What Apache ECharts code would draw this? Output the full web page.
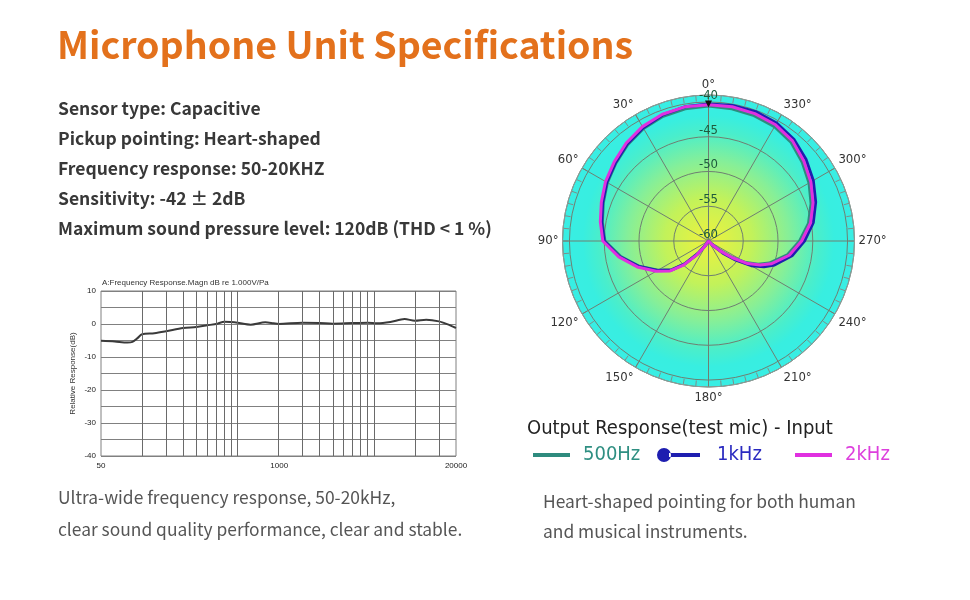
<!DOCTYPE html>
<html><head><meta charset="utf-8">
<script src="https://cdn.jsdelivr.net/npm/echarts@6/dist/echarts.min.js"></script>
<style>html,body{margin:0;padding:0;background:#fff}#c{width:970px;height:600px}</style>
</head><body><div id="c"></div>
<script>
// ---------- data ----------
const pageTitle = 'Microphone Unit Specifications';
const specLines = [
  'Sensor type: Capacitive',
  'Pickup pointing: Heart-shaped',
  'Frequency response: 50-20KHZ',
  'Sensitivity: -42 \u00B1 2dB',
  'Maximum sound pressure level: 120dB (THD < 1 %)'
];
const leftCaption = ['Ultra-wide frequency response, 50-20kHz,', 'clear sound quality performance, clear and stable.'];
const rightCaption = ['Heart-shaped pointing for both human', 'and musical instruments.'];

const freqTitle = 'A:Frequency Response.Magn dB re 1.000V/Pa';
const freqYName = 'Relative Response(dB)';
const freqHz = [50, 63, 78, 85, 93, 100, 123, 150, 200, 250, 300, 357, 400, 446, 500, 625, 800, 920, 1000, 1500, 2000, 2500, 3500, 4500, 5300, 6600, 8400, 10000, 12100, 15000, 17600, 20000];
const responseDb = [-5.1, -5.3, -5.6, -5.4, -4.2, -3.1, -2.8, -2.2, -1.2, -0.9, -0.4, 0.1, 0.7, 0.6, 0.4, -0.2, 0.5, 0.2, 0.0, 0.4, 0.3, 0.1, 0.3, 0.4, 0.2, 0.6, 1.5, 1.0, 1.3, 0.8, -0.2, -1.2];
const freqGridHz = [100, 150, 200, 250, 300, 350, 400, 450, 500, 1000, 1500, 2000, 2500, 3000, 3500, 4000, 4500, 5000, 10000, 15000];

const polarLegendTitle = 'Output Response(test mic) - Input';
const polarSeriesNames = ['500Hz', '1kHz', '2kHz'];
const polarAngles = [0,10,20,30,40,50,60,70,80,90,100,110,120,128,134,140,145,150,180,220,225,230,235,240,245,250,260,270,280,290,300,310,320,330,340,350,360];
const resp500Hz = [-40.6,-40.7,-40.9,-41.3,-41.9,-42.6,-43.2,-43.9,-44.5,-45.1,-47.2,-49.4,-51.6,-53.3,-55.3,-57.7,-59.3,-60,-60,-60,-59.5,-58.1,-56.1,-53.8,-52.1,-50.7,-48.5,-46.9,-45.4,-44.3,-43.3,-42.4,-41.5,-41.0,-40.8,-40.7,-40.6];
const resp1kHz = [-40.3,-40.4,-40.7,-41.2,-41.8,-42.5,-43.1,-43.8,-44.4,-45.0,-47.0,-49.3,-51.5,-53.2,-55.2,-57.6,-59.2,-60,-60,-60,-59.0,-57.3,-55.2,-52.9,-51.2,-49.9,-47.8,-46.2,-44.7,-43.6,-42.6,-41.7,-40.9,-40.4,-40.2,-40.2,-40.3];
const resp2kHz = [-40.4,-40.4,-40.6,-41.0,-41.6,-42.3,-42.9,-43.6,-44.2,-44.8,-46.9,-49.1,-51.3,-53.0,-55.0,-57.4,-59.0,-60,-60,-60,-59.3,-57.8,-55.8,-53.5,-51.8,-50.4,-48.2,-46.6,-45.1,-44.0,-43.0,-42.1,-41.2,-40.7,-40.5,-40.4,-40.4];

// ---------- styles ----------
const CJK = '"Noto Sans CJK SC", "Noto Sans", sans-serif';
const ARIAL = '"Liberation Sans", Arial, sans-serif';
const TAHOMA = '"DejaVu Sans Condensed", "DejaVu Sans", sans-serif';
const colors = ['#2e8b7e', '#1e1eb0', '#e030e0'];
const legendTextColors = ['#2f8f82', '#2a2ac0', '#dd3fdd'];
const POLAR_CX = 708.5, POLAR_CY = 241, POLAR_R = 146;

const chart = echarts.init(document.getElementById('c'), null, {renderer: 'canvas'});

const graphics = [];
graphics.push({type: 'text', x: 57, y: 45, style: {text: pageTitle, font: 'bold 37.5px ' + CJK, fill: '#e3711c', textVerticalAlign: 'middle'}});
specLines.forEach((t, i) => graphics.push({type: 'text', x: 58, y: 108 + i * 30, style: {text: t, font: 'bold 17.5px ' + CJK, fill: '#383838', textVerticalAlign: 'middle'}}));
leftCaption.forEach((t, i) => graphics.push({type: 'text', x: 58, y: 497 + i * 32, style: {text: t, font: '17.4px ' + CJK, fill: '#555', textVerticalAlign: 'middle'}}));
rightCaption.forEach((t, i) => graphics.push({type: 'text', x: 543, y: 501 + i * 30, style: {text: t, font: '17.4px ' + CJK, fill: '#555', textVerticalAlign: 'middle'}}));
graphics.push({type: 'text', x: 102, y: 283, style: {text: freqTitle, font: '8px ' + ARIAL, fill: '#333', textVerticalAlign: 'middle'}});
graphics.push({type: 'text', x: 527, y: 429, style: {text: polarLegendTitle, font: '20px ' + TAHOMA, fill: '#222', textVerticalAlign: 'middle'}});
graphics.push({type: 'circle', z: -10, silent: true, shape: {cx: POLAR_CX, cy: POLAR_CY, r: POLAR_R},
  style: {fill: {type: 'radial', x: 0.5, y: 0.5, r: 0.5, colorStops: [
    {offset: 0, color: '#eef23c'}, {offset: 0.3, color: '#c2f25a'}, {offset: 0.55, color: '#86ef98'},
    {offset: 0.75, color: '#4aeecb'}, {offset: 0.86, color: '#38eee0'}, {offset: 1, color: '#38eee4'}]}}});

const toPolar = arr => arr.map((v, i) => [v, polarAngles[i]]);
const dotLineIcon = 'path://M0,7A7,7 0 1,0 14,7A7,7 0 1,0 0,7Z M12,5L43,5L43,9L12,9Z';

const legendPos = [533, 657, 795];
const legends = polarSeriesNames.map((n, i) => {
  const dot = i === 1;
  return {
    left: legendPos[i], top: 445, orient: 'horizontal', padding: 0, itemGap: 0,
    itemWidth: dot ? 43 : 37, itemHeight: dot ? 14 : 4,
    data: [{name: n, icon: dot ? dotLineIcon : 'rect'}],
    itemStyle: {color: colors[i]},
    textStyle: {fontSize: 20, fontFamily: TAHOMA, color: legendTextColors[i], padding: [0, 0, 0, dot ? 12 : 8]},
    selectedMode: false
  };
});

// 1kHz series: marker on the 0° reference point
const data1k = toPolar(resp1kHz).map((p, i) => i === 0
  ? {value: p, symbol: 'triangle', symbolRotate: 180, symbolSize: [7, 7], itemStyle: {color: '#111'}}
  : p);

const option = {
  animation: false,
  graphic: {elements: graphics},
  legend: legends,
  grid: {left: 101, top: 291, width: 355, height: 165, show: true, borderColor: '#808080', borderWidth: 1},
  xAxis: {
    type: 'log', logBase: 20, min: 50, max: 20000, interval: 1,
    axisLine: {show: false}, axisTick: {show: false}, splitLine: {show: false},
    axisLabel: {fontSize: 8, fontFamily: ARIAL, color: '#222', margin: 6, formatter: v => String(Number(Number(v).toPrecision(2))), showMinLabel: true, showMaxLabel: true}
  },
  yAxis: {
    type: 'value', min: -40, max: 10, interval: 5,
    name: freqYName, nameLocation: 'middle', nameGap: 24, nameTextStyle: {fontSize: 8, fontFamily: ARIAL, color: '#333'},
    axisLine: {show: false}, axisTick: {show: false},
    splitLine: {show: true, lineStyle: {color: '#808080', width: 1}},
    axisLabel: {fontSize: 8, fontFamily: ARIAL, color: '#222', margin: 5, formatter: v => (v % 10 === 0 ? String(v) : '')}
  },
  polar: {center: [POLAR_CX, POLAR_CY], radius: POLAR_R},
  angleAxis: {
    type: 'value', min: 0, max: 360, interval: 30, startAngle: 90, clockwise: false,
    axisLine: {show: true, lineStyle: {color: '#8c9c98', width: 1}},
    axisTick: {show: true, inside: true, length: 6, lineStyle: {color: '#7f8f8a'}},
    minorTick: {show: true, splitNumber: 6, length: 6, lineStyle: {color: '#7f8f8a'}},
    splitLine: {show: true, lineStyle: {color: '#6f7f72', width: 1}},
    axisLabel: {formatter: '{value}\u00B0', margin: 4, fontSize: 13, fontFamily: TAHOMA, color: '#333'}
  },
  radiusAxis: {
    type: 'value', min: -60, max: -39, interval: 5,
    axisLine: {show: false}, axisTick: {show: false},
    splitLine: {show: true, lineStyle: {color: '#6f7f72', width: 1}},
    axisLabel: {margin: 0, align: 'center', verticalAlign: 'bottom', fontSize: 13, fontFamily: TAHOMA, color: '#1e5a3c',
      formatter: v => (v % 5 === 0 ? String(v) : '')}
  },
  series: [
    {type: 'line', xAxisIndex: 0, yAxisIndex: 0, data: freqHz.map((f, i) => [f, responseDb[i]]), smooth: 0.3, symbol: 'none',
      lineStyle: {color: '#3a3a3a', width: 2}, silent: true,
      markLine: {silent: true, symbol: 'none', label: {show: false}, lineStyle: {color: '#6a6a6a', width: 1, type: 'solid'},
        data: freqGridHz.map(f => ({xAxis: f}))}},
    {type: 'line', name: polarSeriesNames[0], coordinateSystem: 'polar', data: toPolar(resp500Hz), symbol: 'none', color: colors[0], lineStyle: {width: 3, color: colors[0]}, silent: true},
    {type: 'line', name: polarSeriesNames[1], coordinateSystem: 'polar', data: data1k, symbol: 'none', showSymbol: true, color: colors[1], lineStyle: {width: 3, color: colors[1]}, silent: true, z: 3},
    {type: 'line', name: polarSeriesNames[2], coordinateSystem: 'polar', data: toPolar(resp2kHz), symbol: 'none', color: colors[2], lineStyle: {width: 3, color: colors[2]}, silent: true}
  ]
};
chart.setOption(option);
</script></body></html>
